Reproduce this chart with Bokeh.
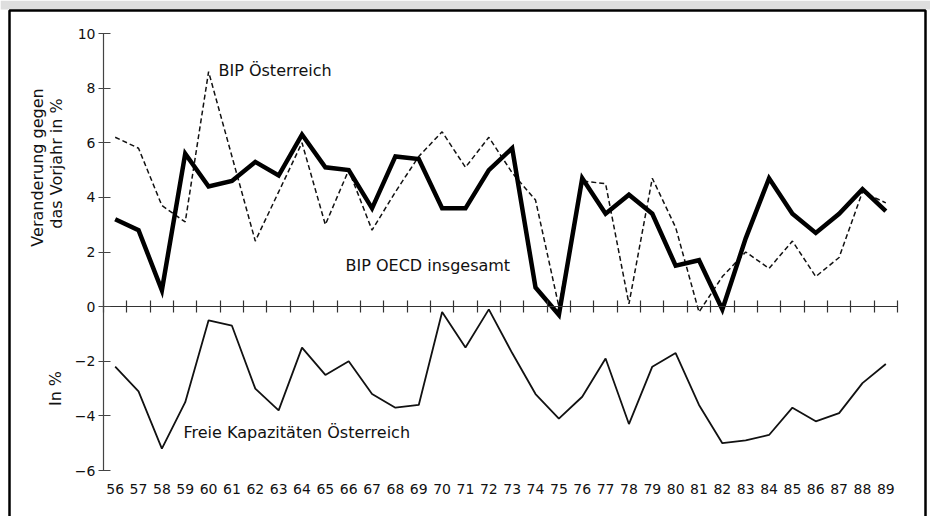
import math
from bokeh.plotting import figure
from bokeh.models import (Range1d, FixedTicker, Label, PolyAnnotation,
                          ColumnDataSource, LinearAxis)
from bokeh.embed import file_html
from bokeh.resources import INLINE

# Jahre 1956-1989 (zweistellig beschriftet)
years = list(range(56, 90))

# Veränderung gegen das Vorjahr in %
bip_oecd = [3.2, 2.8, 0.6, 5.6, 4.4, 4.6, 5.3, 4.8, 6.3, 5.1,
            5.0, 3.6, 5.5, 5.4, 3.6, 3.6, 5.0, 5.8, 0.7, -0.3,
            4.7, 3.4, 4.1, 3.4, 1.5, 1.7, -0.1, 2.5, 4.7, 3.4,
            2.7, 3.4, 4.3, 3.5]
bip_oesterreich = [6.2, 5.8, 3.7, 3.1, 8.6, 5.5, 2.4, 4.2, 6.0, 3.0,
                   5.0, 2.8, 4.2, 5.5, 6.4, 5.1, 6.2, 4.9, 3.9, 0.0,
                   4.6, 4.5, 0.1, 4.7, 2.9, -0.2, 1.1, 2.0, 1.4, 2.4,
                   1.1, 1.8, 4.2, 3.8]

# Freie Kapazitäten Österreich in %
freie_kapazitaeten = [-2.2, -3.1, -5.2, -3.5, -0.5, -0.7, -3.0, -3.8, -1.5, -2.5,
                      -2.0, -3.2, -3.7, -3.6, -0.2, -1.5, -0.1, -1.7, -3.2, -4.1,
                      -3.3, -1.9, -4.3, -2.2, -1.7, -3.6, -5.0, -4.9, -4.7, -3.7,
                      -4.2, -3.9, -2.8, -2.1]

y_ticks = [-6, -4, -2, 0, 2, 4, 6, 8, 10]

FONT = "DejaVu Sans"
INK = "#111111"
W, H = 930, 516

src = ColumnDataSource(dict(year=years, oecd=bip_oecd, at=bip_oesterreich,
                            fk=freie_kapazitaeten))

# Achsenbereich: Jahresgrenzen 55.5 .. 89.5 und Werte -6 .. 10
x_lo, x_hi = years[0] - 0.5, years[-1] + 0.5
y_lo, y_hi = y_ticks[0], y_ticks[-1]

# Pixelrahmen der Achsen auf der Zeichenfläche
ax_left, ax_right, ax_top, ax_bottom = 103, 897, 33, 470
kx = (x_hi - x_lo) / (ax_right - ax_left)
ky = (y_hi - y_lo) / (ax_bottom - ax_top)

def px_x(sx):
    return x_lo + (sx - ax_left) * kx

def px_y(sy):
    return y_hi - (sy - ax_top) * ky

p = figure(width=W, height=H, output_backend="svg", toolbar_location=None,
           x_range=Range1d(px_x(0), px_x(W)), y_range=Range1d(px_y(H), px_y(0)),
           x_axis_location=None, y_axis_location=None,
           min_border=0)
p.outline_line_color = None
p.grid.visible = False
p.background_fill_color = "white"
p.border_fill_color = "white"

# grauer Papierrand oberhalb des Rahmens
p.add_layout(PolyAnnotation(xs=[px_x(0), px_x(0), px_x(W), px_x(W)],
                            ys=[px_y(9), px_y(0), px_y(0), px_y(9)],
                            fill_color="#dedede", fill_alpha=1.0,
                            line_color=None))

# senkrechte Werteachse bei der ersten Jahresgrenze
ya = LinearAxis(fixed_location=x_lo, bounds=(y_lo, y_hi),
                ticker=FixedTicker(ticks=y_ticks))
ya.major_label_overrides = {t: (("\u2212" + str(-t)) if t < 0 else str(t)) for t in y_ticks}
ya.axis_line_color = "#444444"
ya.axis_line_width = 1.2
ya.major_tick_line_color = "#444444"
ya.major_tick_line_width = 1.2
ya.major_tick_out = 5
ya.major_tick_in = 7
ya.minor_tick_line_color = None
ya.major_label_standoff = 3
ya.major_label_text_font = FONT
ya.major_label_text_font_size = "14px"
ya.major_label_text_color = INK
p.add_layout(ya, "left")

# Nulllinie mit Teilstrichen an den Jahresgrenzen
bounds = [y - 0.5 for y in years] + [years[-1] + 0.5]
za = LinearAxis(fixed_location=0, bounds=(x_lo, x_hi),
                ticker=FixedTicker(ticks=bounds))
za.axis_line_color = "#333333"
za.axis_line_width = 1.2
za.major_tick_line_color = "#333333"
za.major_tick_line_width = 1.2
za.major_tick_in = 6
za.major_tick_out = 6
za.minor_tick_line_color = None
za.major_label_text_font_size = "0px"
za.major_label_text_color = None
p.add_layout(za, "below")

# Jahresbeschriftung unter dem Diagramm
xa = LinearAxis(fixed_location=y_lo, ticker=FixedTicker(ticks=years))
xa.axis_line_color = None
xa.major_tick_line_color = None
xa.major_tick_out = 0
xa.major_tick_in = 0
xa.minor_tick_line_color = None
xa.major_label_standoff = 13
xa.major_label_text_font = FONT
xa.major_label_text_font_size = "14px"
xa.major_label_text_color = INK
p.add_layout(xa, "below")

# Kurven
p.line("year", "fk", source=src, line_color=INK, line_width=1.8)
p.line("year", "at", source=src, line_color=INK, line_width=1.5, line_dash="5 3")
p.line("year", "oecd", source=src, line_color="#000000", line_width=4.5,
       line_join="miter")

# Beschriftungen
def lab(x, y, text, angle=0.0, align="left"):
    p.add_layout(Label(x=x, y=y, text=text, angle=angle, text_align=align,
                       text_baseline="middle", text_font=FONT,
                       text_font_size="16px", text_color=INK))

lab(px_x(218), px_y(70), "BIP Österreich")
lab(px_x(345), px_y(265), "BIP OECD insgesamt")
lab(px_x(183), px_y(432), "Freie Kapazitäten Österreich")
lab(px_x(37), px_y(167), "Veranderung gegen", angle=math.pi / 2, align="center")
lab(px_x(56), px_y(163), "das Vorjahr in %", angle=math.pi / 2, align="center")
lab(px_x(55), px_y(388), "In %", angle=math.pi / 2, align="center")

# Rahmen um die Grafik
bx0, bx1, by0, by1 = px_x(9), px_x(925), px_y(10), px_y(H + 20)
p.add_layout(PolyAnnotation(xs=[bx0, bx0, bx1, bx1], ys=[by1, by0, by0, by1],
                            fill_color=None, fill_alpha=0.0,
                            line_color="#000000", line_alpha=1.0, line_width=2.5))

open("out.html", "w").write(file_html(p, INLINE))
